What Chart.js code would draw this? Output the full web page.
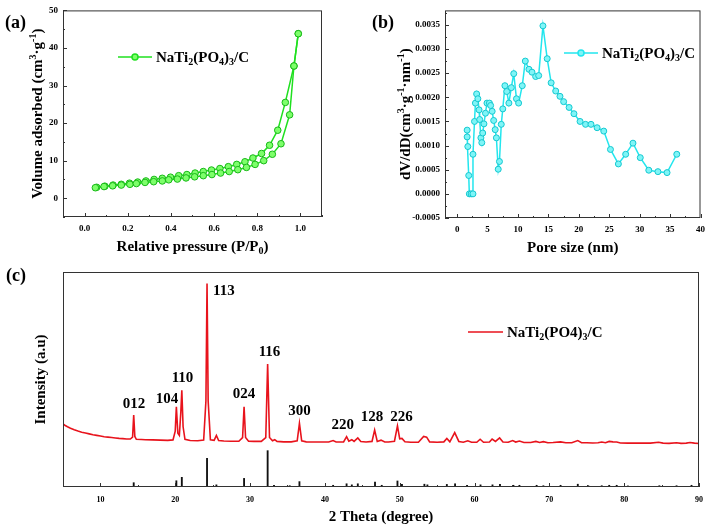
<!DOCTYPE html>
<html lang="en">
<head>
    <meta charset="UTF-8">
    <script src="https://cdn.jsdelivr.net/npm/chart.js"></script>
    <style>
        body{ margin:0; background:#fff; }
        .panel{ position:absolute; }
    </style>
    <title>NaTi2(PO4)3/C BET + XRD</title>
</head>
<body>
    <canvas id="chartA" class="panel" width="355" height="260" style="left:0;top:0"></canvas>
    <canvas id="chartB" class="panel" width="356" height="260" style="left:355px;top:0"></canvas>
    <canvas id="chartC" class="panel" width="711" height="270" style="left:0;top:260px"></canvas>

<script>
// (a) N2 isotherm - adsorption (lower) / desorption (upper)
const adsX = [0.05,0.09,0.13,0.17,0.21,0.24,0.28,0.32,0.36,0.39,0.43,0.47,0.51,0.55,0.59,0.63,0.67,0.71,0.75,0.79,0.83,0.87,0.91,0.95,0.97,0.99];
const adsY = [2.8,3.1,3.3,3.5,3.7,3.9,4.2,4.4,4.6,4.9,5.1,5.4,5.7,6.0,6.3,6.7,7.1,7.6,8.2,9.0,10.0,11.7,14.5,22.2,35.2,43.8];
const desX = [0.99,0.97,0.93,0.895,0.857,0.82,0.78,0.743,0.705,0.666,0.627,0.588,0.55,0.512,0.474,0.436,0.398,0.36,0.322,0.284,0.246,0.208,0.17,0.132,0.094,0.056];
const desY = [43.8,35.2,25.5,18.1,14.1,11.9,10.7,9.7,9.0,8.4,7.9,7.5,7.1,6.7,6.3,6.0,5.6,5.3,5.0,4.6,4.3,4.0,3.7,3.5,3.2,2.9];
const ticksAx = [0,0.2,0.4,0.6,0.8,1.0];

// (b) pore size distribution
const poreX = [1.64,1.64,1.75,1.9,2.0,2.3,2.6,2.6,2.85,3.0,3.2,3.4,3.6,3.7,3.9,4.05,4.2,4.4,4.65,4.9,5.3,5.5,5.75,6.0,6.25,6.45,6.75,6.95,7.25,7.5,7.85,8.15,8.5,8.9,9.3,9.75,10.1,10.7,11.2,11.8,12.3,12.9,13.4,14.1,14.8,15.45,16.2,16.9,17.5,18.4,19.2,20.2,21.1,22.0,23.0,24.1,25.2,26.5,27.7,28.9,30.1,31.5,33.0,34.5,36.1];
const poreY = [0.00132,0.00118,0.00098,0.00038,0,0,0,0.00082,0.0015,0.00188,0.00207,0.00197,0.00174,0.00154,0.00116,0.00106,0.00126,0.00145,0.00167,0.00188,0.00188,0.00183,0.00171,0.00152,0.00133,0.00116,0.00051,0.00067,0.00144,0.00176,0.00224,0.00212,0.00188,0.0022,0.00249,0.00197,0.00188,0.00224,0.00275,0.00258,0.00252,0.00243,0.00245,0.00348,0.0028,0.0023,0.00213,0.00202,0.00191,0.00179,0.00166,0.0015,0.00144,0.00144,0.00137,0.0013,0.00092,0.00062,0.00082,0.00105,0.00075,0.00049,0.00046,0.00044,0.00082];

// (c) XRD pattern (intensity in % of plot height)
const xrdX = [5.0,5.3,5.6,6.0,6.5,7.0,7.5,8.0,8.5,9.0,9.5,10.0,10.5,11.0,11.5,12.0,12.5,13.0,13.5,14.0,14.3,14.45,14.6,14.8,15.5,16.0,17.0,18.0,19.0,19.7,20.0,20.15,20.35,20.55,20.75,20.88,21.05,21.3,22.0,23.0,23.8,24.1,24.25,24.4,24.7,25.2,25.5,25.8,26.5,27.5,28.5,29.0,29.2,29.4,29.8,30.5,31.5,32.1,32.35,32.6,33.0,33.3,33.6,34.5,35.5,36.3,36.6,36.9,37.5,38.5,39.5,40.5,41.1,41.5,42.5,42.9,43.2,43.6,43.9,44.4,44.8,45.5,46.3,46.65,47.0,47.5,48.0,48.5,49.3,49.7,50.0,50.3,50.7,51.5,52.5,53.2,53.6,54.0,55.0,55.9,56.3,56.7,57.35,57.9,58.5,59.1,59.6,60.3,60.75,61.2,62.0,62.35,62.8,63.35,63.8,64.5,65.1,65.5,66.0,66.6,67.5,68.2,68.7,69.2,69.8,70.5,71.5,72.2,73.0,73.8,74.3,75.0,75.8,76.5,77.0,77.5,78.0,78.5,79.0,79.5,80.5,81.5,82.5,83.5,84.6,85.2,86.0,87.0,87.6,88.3,88.8,89.4,90.0];
const xrdY = [29.3,28.6,28.0,27.3,26.6,26.0,25.5,25.1,24.7,24.3,24.0,23.7,23.4,23.2,23.0,22.8,22.6,22.5,22.3,22.3,23.2,33.5,23.5,22.2,22.1,22.0,21.9,21.8,21.7,21.9,26.0,37.3,25.0,24.0,35.0,45.0,28.0,22.2,21.6,21.5,21.8,40.0,94.7,40.0,22.0,21.7,24.0,21.6,21.4,21.3,21.3,23.0,37.3,23.0,21.3,21.2,21.2,23.0,57.2,23.0,21.5,22.0,21.2,21.0,21.0,21.5,29.6,21.5,21.0,20.9,20.9,20.9,21.6,20.9,21.0,23.4,21.3,22.0,21.2,22.8,21.2,20.9,21.2,26.5,21.2,21.8,20.9,20.9,21.3,28.4,22.4,22.6,21.0,20.8,20.8,23.5,23.2,21.0,20.8,21.0,22.6,21.0,25.3,21.2,20.8,21.5,20.8,20.8,22.2,20.8,20.9,22.3,21.2,22.8,20.9,20.8,21.6,20.9,21.4,20.7,20.7,21.2,20.7,21.1,20.6,20.7,21.0,20.6,20.6,21.6,20.6,20.6,20.5,20.6,20.9,20.6,21.2,21.0,20.9,20.5,20.4,20.4,20.4,20.4,20.8,20.4,20.3,20.6,20.3,20.4,20.7,20.4,20.2];

// standard reference lines (PDF card)
const refX = [14.45,20.15,20.88,24.25,25.5,29.2,32.35,33.2,35.3,36.6,41.1,42.9,43.6,44.4,46.7,47.6,49.7,50.3,53.3,53.7,56.3,57.4,59.0,60.8,62.4,63.4,65.2,66.0,68.3,69.2,71.5,73.8,75.2,77.0,78.0,79.0,80.5,84.7,87.0,89.0];
const refY = [2.0,2.9,4.5,13.3,1.0,4.0,16.9,0.8,0.6,2.5,0.8,1.5,1.0,1.5,2.3,0.8,2.8,1.2,1.3,1.0,1.2,1.5,0.8,1.0,1.0,1.2,0.8,0.8,0.8,0.6,0.8,1.3,0.6,0.6,0.8,0.8,0.5,0.6,0.6,0.8];

// hkl labels
const hklText = ['012','104','110','113','024','116','300','220','128','226'];
const hklX = [14.5,18.9,20.97,26.5,29.2,32.6,36.6,42.4,46.3,50.25];
const hklY = [39.2,41.4,51.2,91.6,43.7,63.3,35.8,29.3,33.2,33.2];

const SERIF = '"Liberation Serif", "Times New Roman", serif';

// text with sub/superscripts: parts = [[text, 0 normal | 1 sub | 2 sup], ...]
function richText(ctx, parts, x, y, size, angle, align){
    const small = Math.round(size*0.65);
    ctx.save();
    ctx.translate(x, y);
    ctx.rotate(angle || 0);
    ctx.fillStyle = '#000';
    ctx.textBaseline = 'alphabetic';
    ctx.textAlign = 'left';
    let w = 0;
    parts.forEach(p => {
        ctx.font = 'bold ' + (p[1] ? small : size) + 'px ' + SERIF;
        w += ctx.measureText(p[0]).width;
    });
    let cx = align === 'left' ? 0 : -w/2;
    parts.forEach(p => {
        ctx.font = 'bold ' + (p[1] ? small : size) + 'px ' + SERIF;
        let dy = p[1] === 1 ? size*0.22 : (p[1] === 2 ? -size*0.4 : 0);
        ctx.fillText(p[0], cx, size*0.33 + dy);
        cx += ctx.measureText(p[0]).width;
    });
    ctx.restore();
}

// frame, inward ticks, titles, legend
function decoPlugin(opt){
    return {
        id: 'deco',
        afterDraw: (chart) => {
            const ctx = chart.ctx;
            const a = chart.chartArea;
            ctx.save();
            ctx.strokeStyle = '#333';
            ctx.lineWidth = 1;
            ctx.strokeRect(a.left+0.5, a.top+0.5, a.right-a.left-1, a.bottom-a.top-1);
            opt.tickAxes.forEach(id => {
                const sc = chart.scales[id];
                const vals = sc.ticks.map(t => t.value);
                const step = vals[1] - vals[0];
                const draw = (v, len) => {
                    ctx.beginPath();
                    if(sc.isHorizontal()){
                        const px = Math.round(sc.getPixelForValue(v)) + 0.5;
                        ctx.moveTo(px, a.bottom); ctx.lineTo(px, a.bottom - len);
                    } else {
                        const py = Math.round(sc.getPixelForValue(v)) + 0.5;
                        ctx.moveTo(a.left, py); ctx.lineTo(a.left + len, py);
                    }
                    ctx.stroke();
                };
                vals.forEach(v => draw(v, 4));
                for(let v = vals[0] - step/2; v <= sc.max + 1e-9; v += step){
                    if(v >= sc.min - 1e-9) draw(v, 2);
                }
            });
            ctx.restore();

            const cxm = (a.left + a.right)/2, cym = (a.top + a.bottom)/2;
            richText(ctx, opt.xTitle, cxm, a.bottom + 29, 15, 0);
            richText(ctx, opt.yTitle, a.left - opt.yTitleOff, cym, 15, -Math.PI/2);
            richText(ctx, [[opt.tag,0]], opt.tagPos[0], opt.tagPos[1], 18, 0, 'left');

            // legend
            const L = opt.legend;
            ctx.save();
            ctx.strokeStyle = L.color;
            ctx.lineWidth = 1.5;
            ctx.beginPath(); ctx.moveTo(L.x, L.y); ctx.lineTo(L.x + L.len, L.y); ctx.stroke();
            if(L.marker){
                ctx.fillStyle = L.fill;
                ctx.beginPath(); ctx.arc(L.x + L.len/2, L.y, 3, 0, Math.PI*2); ctx.fill(); ctx.stroke();
            }
            ctx.restore();
            richText(ctx, L.text, L.x + L.len + 4, L.y, 15, 0, 'left');

            if(opt.after) opt.after(chart);
        }
    };
}

const tickFont = { family: SERIF, size: 9, weight: 'bold' };
const legendText = [['NaTi',0],['2',1],['(PO',0],['4',1],[')',0],['3',1],['/C',0]];

function toPts(xs, ys){ return xs.map((x,i) => ({x:x, y:ys[i]})); }

// ---------- (a) ----------
new Chart(document.getElementById('chartA').getContext('2d'), {
    type: 'scatter',
    data: {
        datasets: [
            { data: toPts(adsX, adsY), showLine: true, borderColor: '#1fe01f', borderWidth: 1.5,
              pointRadius: 3.3, pointBackgroundColor: '#7dff6a', pointBorderColor: '#18b818', pointBorderWidth: 1 },
            { data: toPts(desX, desY), showLine: true, borderColor: '#1fe01f', borderWidth: 1.5,
              pointRadius: 3.3, pointBackgroundColor: '#7dff6a', pointBorderColor: '#18b818', pointBorderWidth: 1 }
        ]
    },
    plugins: [decoPlugin({
        tickAxes: ['x','y'],
        xTitle: [['Relative pressure (P/P',0],['0',1],[')',0]],
        yTitle: [['Volume adsorbed (cm',0],['3',2],['\u00b7g',0],['-1',2],[')',0]],
        yTitleOff: 26,
        tag: '(a)', tagPos: [5, 22],
        legend: { x: 118, y: 57, len: 34, color: '#1fe01f', fill: '#7dff6a', marker: true, text: legendText }
    })],
    options: {
        responsive: false, animation: false,
        layout: { padding: { left: 0, right: 33, top: 9, bottom: 0 } },
        plugins: { legend: { display: false }, tooltip: { enabled: false } },
        scales: {
            x: { min: -0.1, max: 1.1,
                 grid: { display: false, drawTicks: false }, border: { display: false },
                 afterBuildTicks: s => { s.ticks = ticksAx.map(v => ({ value: v })); },
                 ticks: { padding: 6, color: '#000', font: tickFont,
                          callback: v => Number(v).toFixed(1) },
                 afterFit: s => { s.height = 43; } },
            y: { min: -5, max: 50,
                 grid: { display: false, drawTicks: false }, border: { display: false },
                 ticks: { stepSize: 10, includeBounds: false, padding: 5, color: '#000', font: tickFont },
                 afterFit: s => { s.width = 63; } }
        }
    }
});

// ---------- (b) ----------
new Chart(document.getElementById('chartB').getContext('2d'), {
    type: 'scatter',
    data: {
        datasets: [
            { data: toPts(poreX, poreY), showLine: true, borderColor: '#22e6ee', borderWidth: 1.5,
              pointRadius: 3, pointBackgroundColor: '#7ff5f7', pointBorderColor: '#14c8d0', pointBorderWidth: 1 }
        ]
    },
    plugins: [decoPlugin({
        tickAxes: ['x','y'],
        xTitle: [['Pore size (nm)',0]],
        yTitle: [['dV/dD(cm',0],['3',2],['\u00b7g',0],['-1',2],['\u00b7nm',0],['-1',2],[')',0]],
        yTitleOff: 40,
        tag: '(b)', tagPos: [17, 22],
        legend: { x: 209, y: 53, len: 34, color: '#22e6ee', fill: '#7ff5f7', marker: true, text: legendText }
    })],
    options: {
        responsive: false, animation: false,
        layout: { padding: { left: 0, right: 8, top: 7, bottom: 0 } },
        plugins: { legend: { display: false }, tooltip: { enabled: false } },
        scales: {
            x: { min: -2, max: 40,
                 grid: { display: false, drawTicks: false }, border: { display: false },
                 ticks: { stepSize: 5, includeBounds: false, padding: 6, color: '#000', font: tickFont },
                 afterFit: s => { s.height = 42; } },
            y: { min: -0.0005, max: 0.0038,
                 grid: { display: false, drawTicks: false }, border: { display: false },
                 ticks: { stepSize: 0.0005, includeBounds: false, padding: 5, color: '#000', font: tickFont,
                          callback: v => v.toFixed(4) },
                 afterFit: s => { s.width = 90; } }
        }
    }
});

// ---------- (c) ----------
new Chart(document.getElementById('chartC').getContext('2d'), {
    data: {
        datasets: [
            { type: 'line', data: toPts(xrdX, xrdY), borderColor: '#e8131c', borderWidth: 1.6,
              pointRadius: 0, tension: 0 },
            { type: 'bar', data: toPts(refX, refY), backgroundColor: '#111', barThickness: 1.2 }
        ]
    },
    plugins: [decoPlugin({
        tickAxes: ['x'],
        xTitle: [['2 Theta (degree)',0]],
        yTitle: [['Intensity (a.u)',0]],
        yTitleOff: 23,
        tag: '(c)', tagPos: [6, 15],
        legend: { x: 468, y: 72, len: 35, color: '#e8131c', marker: false,
                  text: [['NaTi',0],['2',1],['(PO4)',0],['3',1],['/C',0]] },
        after: (chart) => {
            const sx = chart.scales.x, sy = chart.scales.y;
            hklText.forEach((t, i) => {
                richText(chart.ctx, [[t,0]], sx.getPixelForValue(hklX[i]), sy.getPixelForValue(hklY[i]), 15, 0);
            });
        }
    })],
    options: {
        responsive: false, animation: false,
        layout: { padding: { left: 0, right: 8, top: 12, bottom: 0 } },
        plugins: { legend: { display: false }, tooltip: { enabled: false } },
        scales: {
            x: { type: 'linear', min: 5, max: 90, offset: false,
                 grid: { display: false, drawTicks: false }, border: { display: false },
                 ticks: { stepSize: 10, includeBounds: false, padding: 8, color: '#000',
                          font: { family: SERIF, size: 8, weight: 'bold' } },
                 afterFit: s => { s.height = 43; } },
            y: { min: 0, max: 100,
                 grid: { display: false, drawTicks: false }, border: { display: false },
                 ticks: { display: false },
                 afterFit: s => { s.width = 63; } }
        }
    }
});
</script>
</body>
</html>
